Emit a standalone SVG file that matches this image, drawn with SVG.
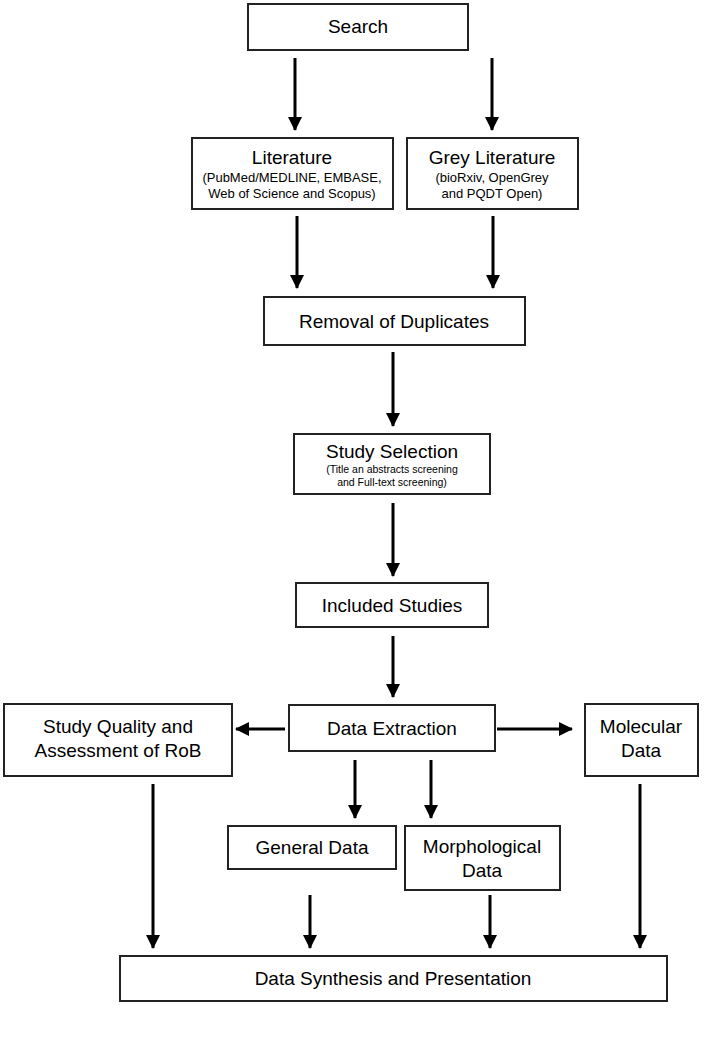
<svg xmlns="http://www.w3.org/2000/svg" width="709" height="1062" viewBox="0 0 709 1062">
<defs>
<marker id="ah" markerUnits="userSpaceOnUse" markerWidth="14" markerHeight="18" refX="13" refY="7" orient="auto" viewBox="0 0 14 14"><path d="M0,0 L14,7 L0,14 Z" fill="#000"/></marker>
<style>
rect{fill:#fff;stroke:#222;stroke-width:2}
text{font-family:"Liberation Sans",Arial,sans-serif;fill:#000;text-anchor:middle}
.t{font-size:19px}.s{font-size:13px}.xs{font-size:10.5px}
#connectors line{stroke:#000;stroke-width:3;marker-end:url(#ah)}
</style>
</defs>
<rect x="0" y="0" width="709" height="1062" style="fill:#fff;stroke:none"/>
<g id="connectors">
<line x1="295" y1="58" x2="295" y2="130"/>
<line x1="492" y1="58" x2="492" y2="130"/>
<line x1="297" y1="216" x2="297" y2="288"/>
<line x1="493" y1="216" x2="493" y2="288"/>
<line x1="393" y1="352" x2="393" y2="426"/>
<line x1="393" y1="503" x2="393" y2="576"/>
<line x1="393" y1="636" x2="393" y2="697"/>
<line x1="285" y1="729" x2="236" y2="729"/>
<line x1="497" y1="729" x2="572" y2="729"/>
<line x1="355" y1="760" x2="355" y2="818"/>
<line x1="431" y1="760" x2="431" y2="818"/>
<line x1="153" y1="784" x2="153" y2="948"/>
<line x1="310" y1="895" x2="310" y2="948"/>
<line x1="490" y1="895" x2="490" y2="948"/>
<line x1="640" y1="784" x2="640" y2="948"/>
</g>
<g id="search"><rect x="248" y="4" width="220" height="46"/><text class="t" x="358" y="33">Search</text></g>
<g id="literature"><rect x="192" y="138" width="201" height="71"/><text class="t" x="292" y="164">Literature</text><text class="s" x="292" y="182">(PubMed/MEDLINE, EMBASE,</text><text class="s" x="292" y="198">Web of Science and Scopus)</text></g>
<g id="grey"><rect x="407" y="138" width="171" height="71"/><text class="t" x="492" y="164">Grey Literature</text><text class="s" x="492" y="182">(bioRxiv, OpenGrey</text><text class="s" x="492" y="198">and PQDT Open)</text></g>
<g id="removal"><rect x="264" y="297" width="261" height="48"/><text class="t" x="394" y="328">Removal of Duplicates</text></g>
<g id="selection"><rect x="294" y="434" width="196" height="60"/><text class="t" x="392" y="458">Study Selection</text><text class="xs" x="392" y="473">(Title an abstracts screening</text><text class="xs" x="392" y="486">and Full-text screening)</text></g>
<g id="included"><rect x="296" y="583" width="192" height="44"/><text class="t" x="392" y="612">Included Studies</text></g>
<g id="extraction"><rect x="289" y="705" width="206" height="46"/><text class="t" x="392" y="735">Data Extraction</text></g>
<g id="quality"><rect x="4" y="704" width="228" height="72"/><text class="t" x="118" y="733">Study Quality and</text><text class="t" x="118" y="757">Assessment of RoB</text></g>
<g id="molecular"><rect x="585" y="704" width="113" height="72"/><text class="t" x="641" y="733">Molecular</text><text class="t" x="641" y="757">Data</text></g>
<g id="general"><rect x="228" y="826" width="168" height="43"/><text class="t" x="312" y="854">General Data</text></g>
<g id="morph"><rect x="405" y="826" width="155" height="64"/><text class="t" x="482" y="853">Morphological</text><text class="t" x="482" y="877">Data</text></g>
<g id="synthesis"><rect x="120" y="956" width="547" height="45"/><text class="t" x="393" y="985">Data Synthesis and Presentation</text></g>
</svg>
